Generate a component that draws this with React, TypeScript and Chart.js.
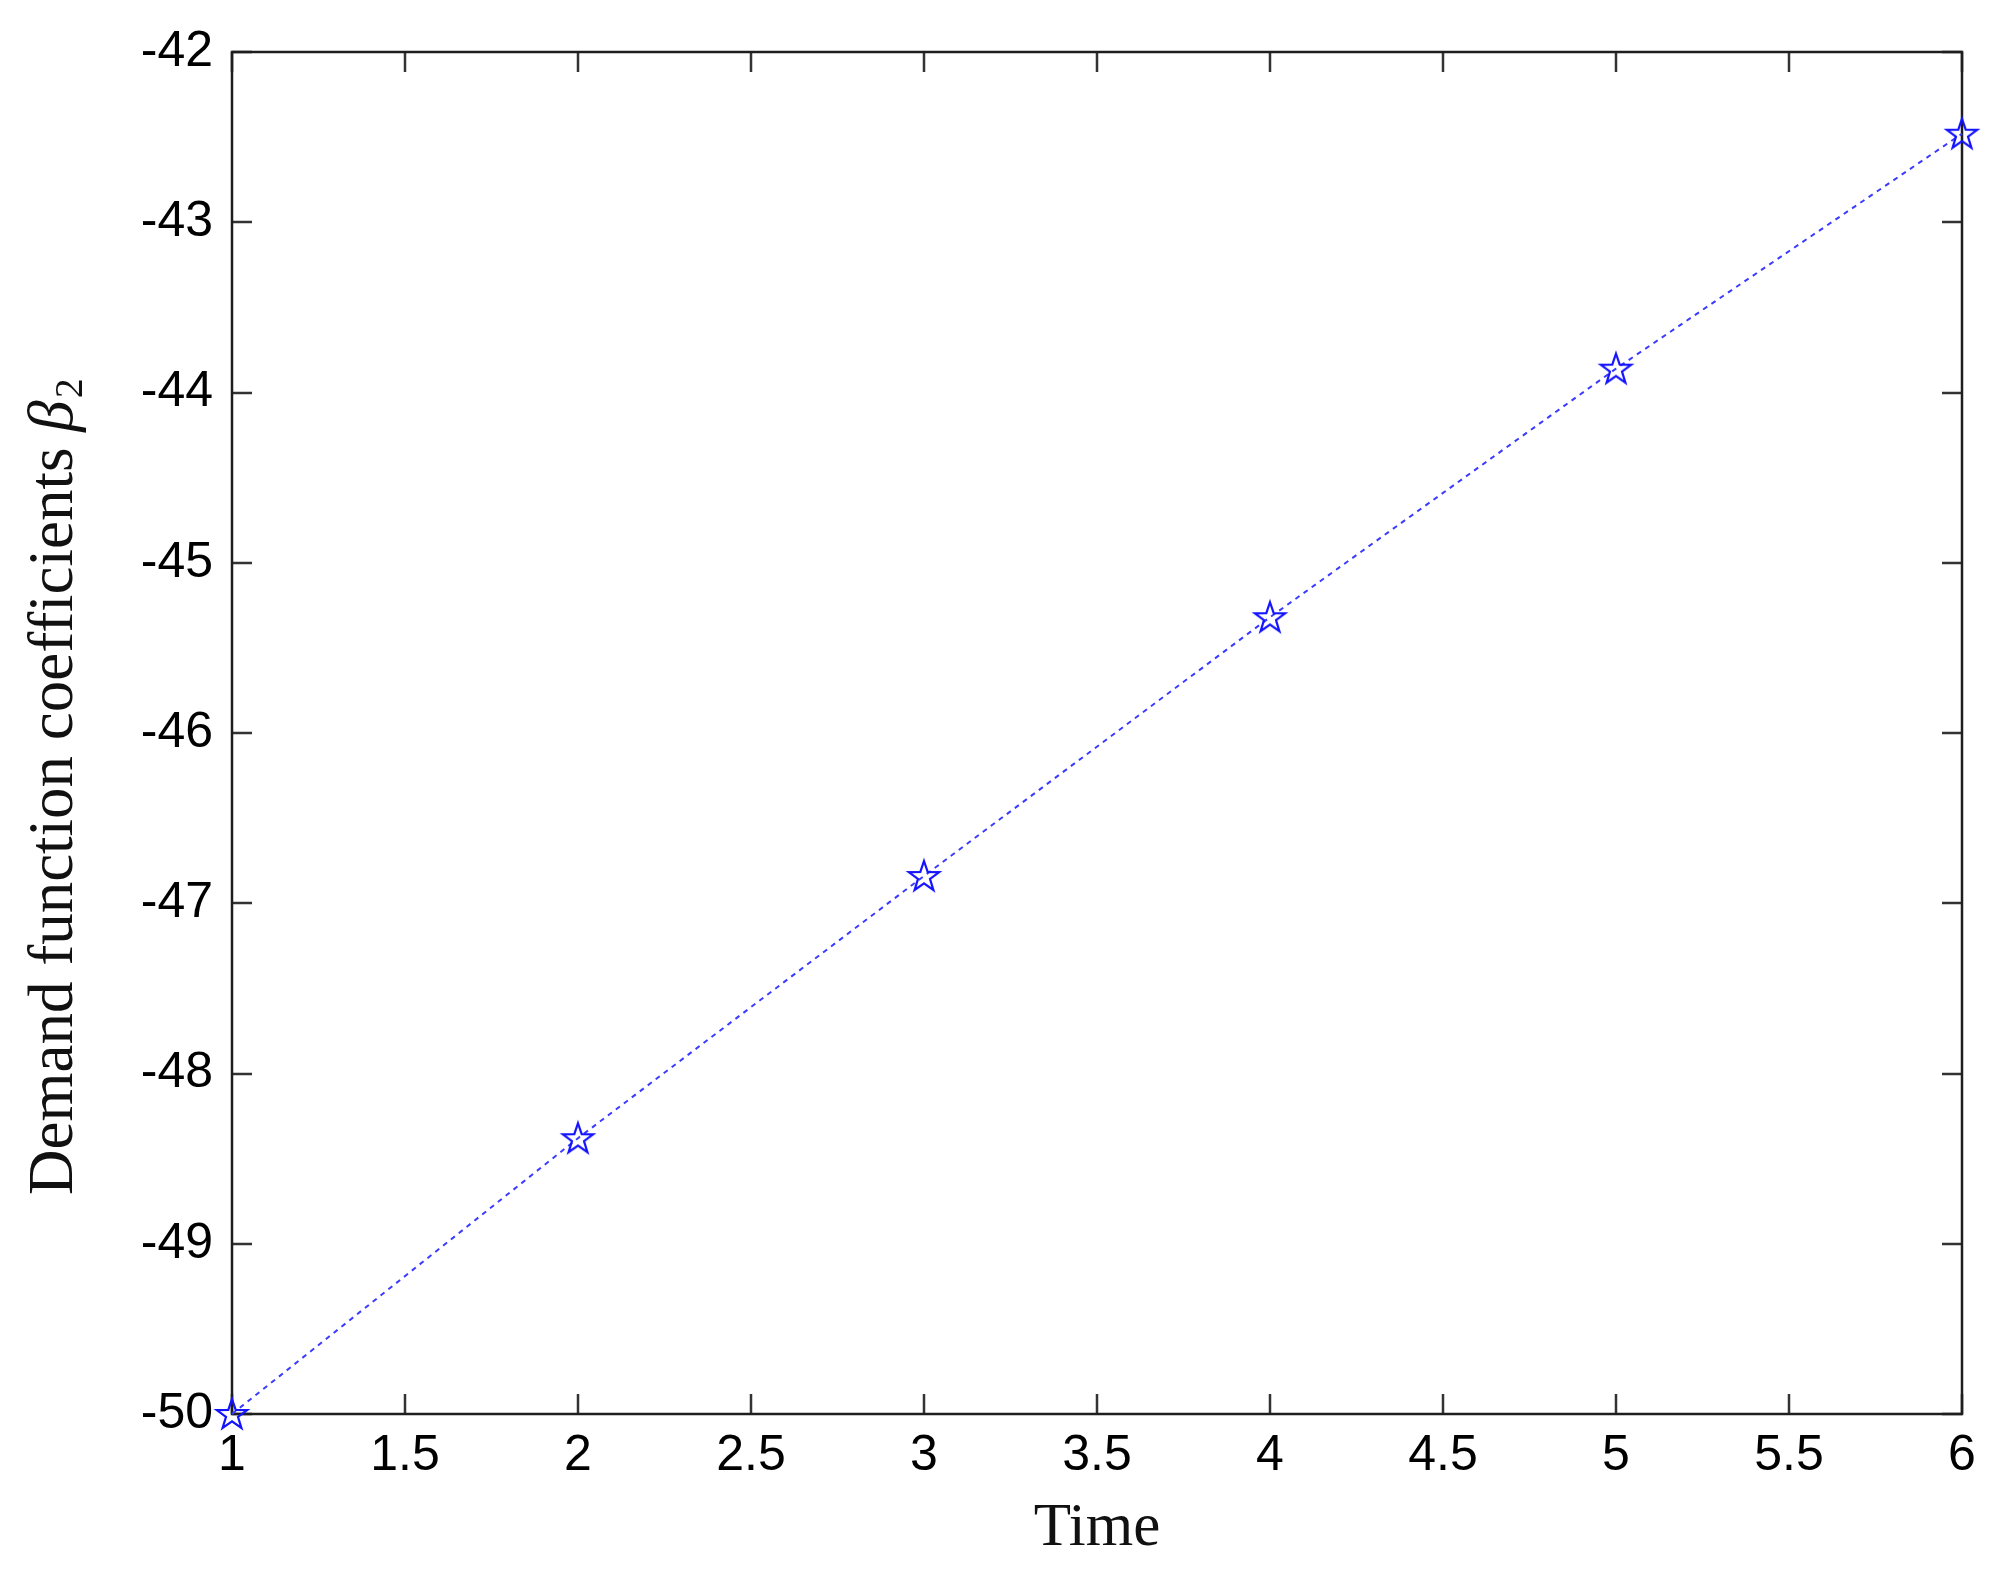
import React, { useEffect, useRef } from "react";
import { Chart, registerables } from "chart.js";

Chart.register(...registerables);

const timePoints = [1, 2, 3, 4, 5, 6];
const beta2Values = [-50, -48.38, -46.84, -45.32, -43.86, -42.48];
const xTickValues = [1, 1.5, 2, 2.5, 3, 3.5, 4, 4.5, 5, 5.5, 6];
const yTickValues = [-50, -49, -48, -47, -46, -45, -44, -43, -42];
const xTitle = "Time";
const yTitleMain = "Demand function coefficients ";
const yTitleSymbol = "β";
const yTitleSub = "2";

const W = 2008;
const H = 1581;

function makeStar(): HTMLCanvasElement {
  const c = document.createElement("canvas");
  const s = 38;
  c.width = s;
  c.height = s;
  const ctx = c.getContext("2d")!;
  const cx = s / 2, cy = s / 2 + 1;
  const R = 16, r = 6.3;
  ctx.beginPath();
  for (let i = 0; i < 10; i++) {
    const ang = -Math.PI / 2 + (i * Math.PI) / 5;
    const rad = i % 2 === 0 ? R : r;
    const px = cx + rad * Math.cos(ang);
    const py = cy + rad * Math.sin(ang);
    if (i === 0) ctx.moveTo(px, py);
    else ctx.lineTo(px, py);
  }
  ctx.closePath();
  ctx.strokeStyle = "#1414ff";
  ctx.lineWidth = 2.2;
  ctx.stroke();
  return c;
}

const framePlugin = {
  id: "matlabFrame",
  beforeDatasetsDraw(chart: any) {
    const { ctx, chartArea } = chart;
    const { left, right, top, bottom } = chartArea;
    const xs = chart.scales.x;
    const ys = chart.scales.y;
    const tl = 20;
    ctx.save();
    ctx.strokeStyle = "#333";
    ctx.lineWidth = 2.5;
    ctx.beginPath();
    for (const v of xTickValues) {
      const px = Math.round(xs.getPixelForValue(v));
      ctx.moveTo(px, bottom);
      ctx.lineTo(px, bottom - tl);
      ctx.moveTo(px, top);
      ctx.lineTo(px, top + tl);
    }
    for (const v of yTickValues) {
      const py = Math.round(ys.getPixelForValue(v));
      ctx.moveTo(left, py);
      ctx.lineTo(left + tl, py);
      ctx.moveTo(right, py);
      ctx.lineTo(right - tl, py);
    }
    ctx.stroke();
    ctx.strokeStyle = "#1e1e1e";
    ctx.lineWidth = 2.5;
    ctx.strokeRect(left, top, right - left, bottom - top);
    ctx.restore();
  },
  afterDraw(chart: any) {
    const { ctx, chartArea } = chart;
    ctx.save();
    ctx.fillStyle = "#111";
    ctx.font = '61px "Liberation Serif", "Times New Roman", serif';
    ctx.textAlign = "center";
    ctx.textBaseline = "alphabetic";
    ctx.fillText(xTitle, (chartArea.left + chartArea.right) / 2, 1545);

    ctx.translate(72, 1195);
    ctx.rotate(-Math.PI / 2);
    ctx.textAlign = "left";
    ctx.font = '63px "Liberation Serif", "Times New Roman", serif';
    ctx.fillText(yTitleMain, 0, 0);
    let w = ctx.measureText(yTitleMain).width;
    ctx.font = 'italic 63px "Liberation Serif", "Times New Roman", serif';
    ctx.fillText(yTitleSymbol, w, 0);
    w += ctx.measureText(yTitleSymbol).width + 2;
    ctx.font = '40px "Liberation Serif", "Times New Roman", serif';
    ctx.fillText(yTitleSub, w, 10);
    ctx.restore();
  },
};

export default function App() {
  const ref = useRef<HTMLCanvasElement | null>(null);

  useEffect(() => {
    if (!ref.current) return;
    const star = makeStar();
    const chart = new Chart(ref.current, {
      type: "scatter",
      data: {
        datasets: [
          {
            data: timePoints.map((t, i) => ({ x: t, y: beta2Values[i] })),
            showLine: true,
            borderColor: "#3b3bff",
            borderWidth: 2,
            borderDash: [5, 5],
            pointStyle: star as any,
            pointRadius: 16,
            pointHoverRadius: 16,
            clip: false as any,
          },
        ],
      },
      options: {
        responsive: false,
        animation: false,
        events: [],
        layout: { padding: { left: 0, top: 52, right: 46, bottom: 0 } },
        plugins: {
          legend: { display: false },
          tooltip: { enabled: false },
          title: { display: false },
        },
        scales: {
          x: {
            type: "linear",
            min: 1,
            max: 6,
            afterBuildTicks: (scale: any) => {
              scale.ticks = xTickValues.map((v) => ({ value: v }));
            },
            afterFit: (scale: any) => {
              scale.height = 167;
            },
            grid: { display: false, drawTicks: false },
            border: { display: false },
            ticks: {
              padding: 12,
              color: "#000",
              font: { family: '"Liberation Sans", Arial, sans-serif', size: 50 },
              maxRotation: 0,
              autoSkip: false,
              callback: (v: any) => String(v),
            },
          },
          y: {
            type: "linear",
            min: -50,
            max: -42,
            afterBuildTicks: (scale: any) => {
              scale.ticks = yTickValues.map((v) => ({ value: v }));
            },
            afterFit: (scale: any) => {
              scale.width = 232;
            },
            grid: { display: false, drawTicks: false },
            border: { display: false },
            ticks: {
              padding: 19,
              color: "#000",
              font: { family: '"Liberation Sans", Arial, sans-serif', size: 50 },
              autoSkip: false,
              callback: (v: any) => String(v),
            },
          },
        },
      },
      plugins: [framePlugin],
    });
    return () => chart.destroy();
  }, []);

  return (
    <div style={{ position: "fixed", left: 0, top: 0, width: W, height: H, background: "#fff" }}>
      <canvas ref={ref} width={W} height={H} style={{ width: W, height: H, display: "block" }} />
    </div>
  );
}
